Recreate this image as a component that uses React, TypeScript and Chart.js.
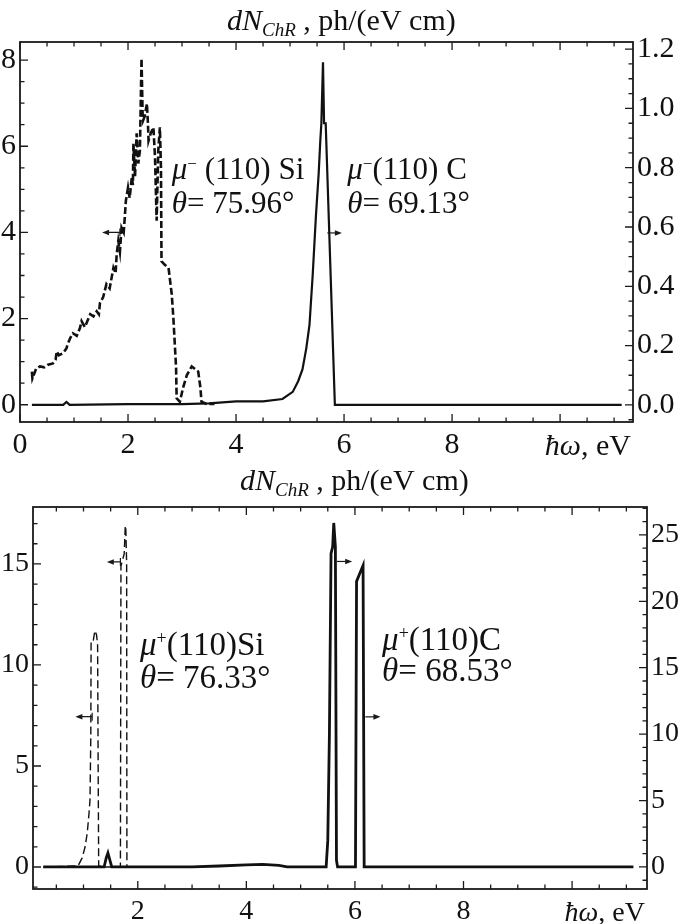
import React, { useEffect, useRef } from "react";
import Chart from "chart.js/auto";

const SERIF = '"Liberation Serif", "Times New Roman", Times, serif';

// ---------- Top panel: mu- (110) Si (left axis, dashed) and mu- (110) C (right axis, solid)
const TOP_SI_X = [0.22, 0.23, 0.30, 0.37, 0.45, 0.52, 0.61, 0.66, 0.68, 0.72, 0.80, 0.86, 0.88, 0.93, 0.98, 1.05, 1.11, 1.14, 1.20, 1.25, 1.30, 1.36, 1.42, 1.46, 1.48, 1.54, 1.60, 1.66, 1.73, 1.77, 1.79, 1.82, 1.85, 1.88, 1.92, 1.94, 1.96, 2.00, 2.03, 2.07, 2.09, 2.10, 2.13, 2.16, 2.19, 2.22, 2.25, 2.27, 2.28, 2.31, 2.35, 2.37, 2.38, 2.42, 2.47, 2.50, 2.53, 2.56, 2.59, 2.61, 2.62, 2.68, 2.75, 2.81, 2.84, 2.89, 2.90, 2.96, 3.02, 3.09, 3.18, 3.30, 3.34, 3.36, 3.45, 3.60];
const TOP_SI_Y = [0.77, 0.61, 0.84, 0.89, 0.87, 0.93, 0.96, 1.05, 1.24, 1.15, 1.20, 1.31, 1.40, 1.55, 1.66, 1.60, 1.78, 1.94, 1.80, 1.95, 2.10, 2.05, 2.17, 2.10, 2.36, 2.50, 2.80, 2.70, 3.18, 3.05, 3.49, 3.80, 3.55, 4.11, 4.00, 4.35, 4.73, 5.04, 4.80, 5.28, 5.10, 6.06, 5.30, 6.30, 5.60, 5.90, 8.04, 6.76, 6.60, 6.70, 6.99, 6.50, 6.13, 6.30, 6.44, 5.74, 4.27, 5.90, 6.44, 5.50, 3.33, 3.25, 3.18, 2.56, 2.01, 0.85, 0.15, 0.07, 0.40, 0.69, 0.89, 0.77, 0.40, 0.07, 0.02, 0.02];
const TOP_C_X = [0.22, 0.80, 0.86, 0.92, 2.0, 3.0, 3.5, 4.0, 4.5, 4.86, 5.05, 5.15, 5.23, 5.30, 5.36, 5.42, 5.48, 5.53, 5.56, 5.58, 5.61, 5.63, 5.66, 5.83, 6.2, 11.14];
const TOP_C_Y = [0, 0, 0.01, 0, 0.003, 0.003, 0.005, 0.012, 0.012, 0.02, 0.044, 0.08, 0.12, 0.19, 0.27, 0.44, 0.64, 0.78, 0.89, 0.95, 1.156, 0.95, 0.95, 0.0, 0, 0];
const TOP_X_TICKS = [0, 2, 4, 6, 8];
const TOP_YL_TICKS = [0, 2, 4, 6, 8];
const TOP_YR_TICKS = [0, 0.2, 0.4, 0.6, 0.8, 1.0, 1.2];

// ---------- Bottom panel: mu+ (110) Si (left axis, dashed) and mu+ (110) C (right axis, solid)
const BOT_SI_X = [0.26, 0.90, 0.975, 1.03, 1.07, 1.10, 1.12, 1.135, 1.14, 1.18, 1.21, 1.24, 1.26, 1.27, 1.28, 1.40, 1.68, 1.69, 1.72, 1.75, 1.77, 1.78, 1.795, 1.80, 2.0];
const BOT_SI_Y = [0, 0.05, 0.45, 1.0, 1.7, 2.6, 3.3, 6.5, 11.2, 11.2, 11.7, 11.5, 11.0, 5.0, 0.05, 0, 0, 14.9, 15.2, 15.5, 16.9, 16.7, 15, 0, 0];
const BOT_C_X = [0.26, 1.38, 1.42, 1.45, 1.48, 1.52, 3.0, 3.5, 4.0, 4.3, 4.6, 4.75, 5.47, 5.50, 5.53, 5.56, 5.59, 5.61, 5.64, 5.66, 5.68, 6.01, 6.03, 6.10, 6.15, 6.17, 11.13];
const BOT_C_Y = [0, 0, 0.7, 1.05, 0.6, 0, 0, 0.07, 0.15, 0.2, 0.12, 0, 0, 2.0, 10.0, 23.6, 24.1, 25.9, 24.1, 0.5, 0, 0, 21.5, 22.2, 22.7, 0, 0];
const BOT_X_TICKS = [2, 4, 6, 8];
const BOT_YL_TICKS = [0, 5, 10, 15];
const BOT_YR_TICKS = [0, 5, 10, 15, 20, 25];

const F = (size: number, italic = false) => `${italic ? "italic " : ""}${size}px ${SERIF}`;

type Seg = { t: string; f: string; dy?: number };

function drawSegs(ctx: CanvasRenderingContext2D, segs: Seg[], x: number, y: number, align: "left" | "right" = "left") {
  const widths = segs.map((s) => {
    ctx.font = s.f;
    return ctx.measureText(s.t).width;
  });
  const total = widths.reduce((a, b) => a + b, 0);
  let cx = align === "right" ? x - total : x;
  ctx.textAlign = "left";
  ctx.textBaseline = "alphabetic";
  segs.forEach((s, i) => {
    ctx.font = s.f;
    ctx.fillText(s.t, cx, y + (s.dy || 0));
    cx += widths[i];
  });
}

function zip(xs: number[], ys: number[]) {
  const n = Math.min(xs.length, ys.length);
  const out: { x: number; y: number }[] = [];
  for (let i = 0; i < n; i++) out.push({ x: xs[i], y: ys[i] });
  return out;
}

type Spec = any;

function decorPlugin(spec: Spec) {
  return {
    id: "decor",
    afterDraw(chart: any) {
      const ctx: CanvasRenderingContext2D = chart.ctx;
      const ca = chart.chartArea;
      const sx = chart.scales.x;
      const yl = chart.scales.yL;
      const yr = chart.scales.yR;
      ctx.save();
      ctx.strokeStyle = "#1a1a1a";
      ctx.fillStyle = "#1a1a1a";
      // frame
      ctx.lineWidth = 1.8;
      ctx.strokeRect(ca.left, ca.top, ca.right - ca.left, ca.bottom - ca.top);
      // ticks
      ctx.lineWidth = 1.3;
      const loop = (scale: any, minor: number, major: number, draw: (p: number, len: number) => void) => {
        const start = Math.ceil(scale.min / minor - 1e-9);
        for (let k = start; k * minor <= scale.max + 1e-9; k++) {
          const v = k * minor;
          const r = v / major;
          const isMajor = Math.abs(r - Math.round(r)) < 1e-6;
          draw(scale.getPixelForValue(v), isMajor ? 8 : 4.5);
        }
      };
      ctx.beginPath();
      loop(sx, spec.xMinor, spec.xMajor, (p, len) => {
        ctx.moveTo(p, ca.bottom);
        ctx.lineTo(p, ca.bottom - len);
        ctx.moveTo(p, ca.top);
        ctx.lineTo(p, ca.top + len);
      });
      loop(yl, spec.ylMinor, spec.ylMajor, (p, len) => {
        ctx.moveTo(ca.left, p);
        ctx.lineTo(ca.left + len, p);
      });
      loop(yr, spec.yrMinor, spec.yrMajor, (p, len) => {
        ctx.moveTo(ca.right, p);
        ctx.lineTo(ca.right - len, p);
      });
      ctx.stroke();

      // arrows
      ctx.lineWidth = 1.2;
      spec.arrows.forEach((a: any) => {
        const ys = a.axis === "yL" ? yl : yr;
        const y = ys.getPixelForValue(a.y);
        const x1 = sx.getPixelForValue(a.from);
        const x2 = sx.getPixelForValue(a.to);
        const dir = x2 > x1 ? 1 : -1;
        ctx.beginPath();
        ctx.moveTo(x1, y);
        ctx.lineTo(x2 - dir * 5, y);
        if (a.stub) {
          ctx.moveTo(x1, y - 4);
          ctx.lineTo(x1, y + 4);
        }
        ctx.stroke();
        ctx.beginPath();
        ctx.moveTo(x2, y);
        ctx.lineTo(x2 - dir * 7, y - 2.8);
        ctx.lineTo(x2 - dir * 7, y + 2.8);
        ctx.closePath();
        ctx.fill();
      });

      // annotations
      ctx.fillStyle = "#111";
      spec.labels.forEach((l: any) => {
        const ys = l.axis === "yL" ? yl : yr;
        const x = sx.getPixelForValue(l.x);
        const y = ys.getPixelForValue(l.y);
        l.lines.forEach((segs: Seg[], i: number) => drawSegs(ctx, segs, x, y + i * l.gap));
      });

      // title
      const ts = spec.titleSize;
      drawSegs(
        ctx,
        [
          { t: "dN", f: F(ts, true) },
          { t: "ChR", f: F(Math.round(ts * 0.63), true), dy: 6 },
          { t: " , ph/(eV cm)", f: F(ts) },
        ],
        spec.titleX,
        spec.titleY
      );

      // x axis label
      drawSegs(
        ctx,
        [
          { t: "ħω", f: F(spec.tickSize, true) },
          { t: ", eV", f: F(spec.tickSize) },
        ],
        ca.right - 2,
        spec.xLabelY,
        "right"
      );
      ctx.restore();
    },
  };
}

function Panel({ spec, width, height, top }: { spec: Spec; width: number; height: number; top: number }) {
  const ref = useRef<HTMLCanvasElement | null>(null);
  useEffect(() => {
    if (!ref.current) return;
    const font = { family: SERIF, size: spec.tickSize };
    const chart = new Chart(ref.current, {
      type: "line",
      data: {
        datasets: [
          {
            label: "Si",
            data: zip(spec.siX, spec.siY),
            yAxisID: "yL",
            borderColor: "#111",
            borderWidth: spec.siWidth,
            borderDash: spec.siDash,
            pointRadius: 0,
            fill: false,
            tension: 0,
          },
          {
            label: "C",
            data: zip(spec.cX, spec.cY),
            yAxisID: "yR",
            borderColor: "#111",
            borderWidth: spec.cWidth,
            pointRadius: 0,
            fill: false,
            tension: 0,
          },
        ],
      },
      options: {
        responsive: false,
        animation: false,
        devicePixelRatio: 1,
        events: [],
        layout: { padding: { top: spec.padTop, left: 0, right: 0, bottom: 0 } },
        plugins: { legend: { display: false }, tooltip: { enabled: false }, title: { display: false } },
        scales: {
          x: {
            type: "linear",
            position: "bottom",
            min: spec.xMin,
            max: spec.xMax,
            grid: { display: false, drawTicks: false },
            border: { display: false },
            afterBuildTicks: (s: any) => {
              s.ticks = spec.xTicks.map((v: number) => ({ value: v }));
            },
            afterFit: (s: any) => {
              s.height = spec.xAxisH;
            },
            ticks: { autoSkip: false, maxRotation: 0, padding: spec.xPad, color: "#111", font, callback: (v: any) => String(v) },
          },
          yL: {
            type: "linear",
            position: "left",
            min: spec.ylMin,
            max: spec.ylMax,
            grid: { display: false, drawTicks: false },
            border: { display: false },
            afterBuildTicks: (s: any) => {
              s.ticks = spec.ylTicks.map((v: number) => ({ value: v }));
            },
            afterFit: (s: any) => {
              s.width = spec.leftW;
            },
            ticks: { autoSkip: false, padding: 4, color: "#111", font, callback: (v: any) => String(v) },
          },
          yR: {
            type: "linear",
            position: "right",
            min: spec.yrMin,
            max: spec.yrMax,
            grid: { display: false, drawTicks: false },
            border: { display: false },
            afterBuildTicks: (s: any) => {
              s.ticks = spec.yrTicks.map((v: number) => ({ value: v }));
            },
            afterFit: (s: any) => {
              s.width = spec.rightW;
            },
            ticks: { autoSkip: false, padding: 4, color: "#111", font, callback: (v: any) => spec.yrFmt(Number(v)) },
          },
        },
      } as any,
      plugins: [decorPlugin(spec)],
    });
    return () => chart.destroy();
  }, [spec]);
  return (
    <div style={{ position: "absolute", left: 0, top, width, height }}>
      <canvas ref={ref} width={width} height={height} style={{ display: "block", width, height }} />
    </div>
  );
}

const TOP_SPEC: Spec = {
  siX: TOP_SI_X,
  siY: TOP_SI_Y,
  cX: TOP_C_X,
  cY: TOP_C_Y,
  siWidth: 2.6,
  siDash: [7, 3],
  cWidth: 2.2,
  xMin: 0,
  xMax: 11.35,
  ylMin: -0.4,
  ylMax: 8.42,
  yrMin: -0.0576,
  yrMax: 1.224,
  xTicks: TOP_X_TICKS,
  ylTicks: TOP_YL_TICKS,
  yrTicks: TOP_YR_TICKS,
  yrFmt: (v: number) => v.toFixed(1),
  xMinor: 0.5,
  xMajor: 2,
  ylMinor: 0.5,
  ylMajor: 2,
  yrMinor: 0.05,
  yrMajor: 0.2,
  tickSize: 30,
  titleSize: 30,
  padTop: 42,
  leftW: 20,
  rightW: 52,
  xAxisH: 38,
  xPad: 5,
  titleX: 227,
  titleY: 30,
  xLabelY: 455,
  arrows: [
    { from: 1.85, to: 1.52, y: 4, axis: "yL", stub: true },
    { from: 5.69, to: 5.96, y: 0.58, axis: "yR", stub: false },
  ],
  labels: [
    {
      x: 2.81,
      y: 5.25,
      axis: "yL",
      gap: 34,
      lines: [
        [{ t: "μ", f: F(31, true) }, { t: "−", f: F(17), dy: -10 }, { t: " (110) Si", f: F(31) }],
        [{ t: "θ", f: F(31, true) }, { t: "= 75.96°", f: F(31) }],
      ],
    },
    {
      x: 6.06,
      y: 5.25,
      axis: "yL",
      gap: 34,
      lines: [
        [{ t: "μ", f: F(31, true) }, { t: "−", f: F(17), dy: -10 }, { t: "(110) C", f: F(31) }],
        [{ t: "θ", f: F(31, true) }, { t: "= 69.13°", f: F(31) }],
      ],
    },
  ],
};

const BOT_SPEC: Spec = {
  siX: BOT_SI_X,
  siY: BOT_SI_Y,
  cX: BOT_C_X,
  cY: BOT_C_Y,
  siWidth: 1.4,
  siDash: [8, 4],
  cWidth: 2.8,
  xMin: 0.07,
  xMax: 11.38,
  ylMin: -1.09,
  ylMax: 17.82,
  yrMin: -1.66,
  yrMax: 27.1,
  xTicks: BOT_X_TICKS,
  ylTicks: BOT_YL_TICKS,
  yrTicks: BOT_YR_TICKS,
  yrFmt: (v: number) => String(v),
  xMinor: 0.5,
  xMajor: 2,
  ylMinor: 1,
  ylMajor: 5,
  yrMinor: 1,
  yrMajor: 5,
  tickSize: 28,
  titleSize: 30,
  padTop: 47,
  leftW: 33,
  rightW: 38,
  xAxisH: 35,
  xPad: 6,
  titleX: 240,
  titleY: 30,
  xLabelY: 461,
  arrows: [
    { from: 1.68, to: 1.43, y: 15.1, axis: "yL", stub: true },
    { from: 1.16, to: 0.85, y: 7.44, axis: "yL", stub: true },
    { from: 5.67, to: 5.95, y: 23.0, axis: "yR", stub: false },
    { from: 6.19, to: 6.47, y: 11.3, axis: "yR", stub: false },
  ],
  labels: [
    {
      x: 2.04,
      y: 10.5,
      axis: "yL",
      gap: 33,
      lines: [
        [{ t: "μ", f: F(33, true) }, { t: "+", f: F(18), dy: -11 }, { t: "(110)Si", f: F(33) }],
        [{ t: "θ", f: F(33, true) }, { t: "= 76.33°", f: F(33) }],
      ],
    },
    {
      x: 6.5,
      y: 10.74,
      axis: "yL",
      gap: 31,
      lines: [
        [{ t: "μ", f: F(33, true) }, { t: "+", f: F(18), dy: -11 }, { t: "(110)C", f: F(33) }],
        [{ t: "θ", f: F(33, true) }, { t: "= 68.53°", f: F(33) }],
      ],
    },
  ],
};

export default function App() {
  return (
    <div style={{ position: "absolute", left: 0, top: 0, width: 685, height: 924, background: "#fff", overflow: "hidden" }}>
      <Panel spec={TOP_SPEC} width={685} height={460} top={0} />
      <Panel spec={BOT_SPEC} width={685} height={464} top={460} />
    </div>
  );
}
